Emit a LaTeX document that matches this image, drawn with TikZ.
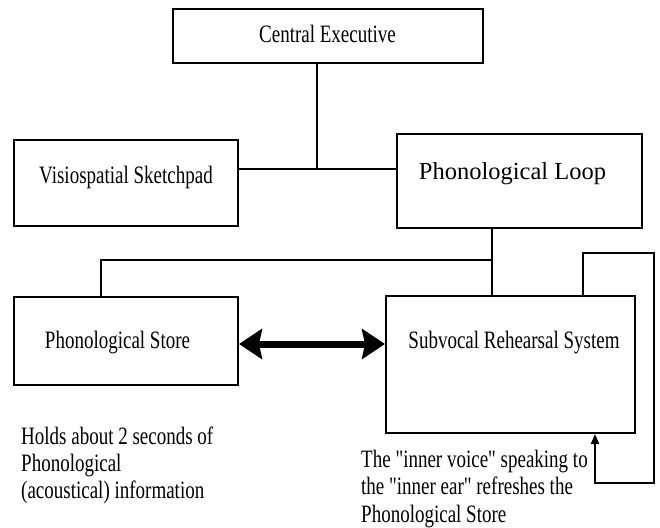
\documentclass[tikz,border=0pt]{standalone}
\usepackage{fontspec}
\newfontfamily\condfont{Liberation Serif}[FakeStretch=0.76]
\newfontfamily\plfont{Liberation Serif}
\usetikzlibrary{arrows.meta}
\newcommand{\boxtext}[2]{\raisebox{#1}[0pt][0pt]{#2}}
\begin{document}
\begin{tikzpicture}[x=1pt,y=-1pt,
  box/.style={draw, line width=2pt, inner sep=0pt, font=\condfont\fontsize{25}{27}\selectfont},
  conn/.style={line width=1.5pt},
  note/.style={anchor=base west, inner sep=0pt, font=\condfont\fontsize{25}{27}\selectfont}]
\useasboundingbox (0,0) rectangle (660,527);
\fill[white] (0,0) rectangle (660,527);
% boxes
\node[box, minimum width=310pt, minimum height=53pt] (ce) at (327.5,36) {\boxtext{-6.7pt}{Central Executive}};
\node[box, minimum width=224pt, minimum height=86pt] (vs) at (126,183) {\boxtext{0pt}{Visiospatial Sketchpad}};
\node[box, minimum width=245pt, minimum height=94pt, font=\plfont\fontsize{24.5}{28}\selectfont] (pl) at (519.5,181) {\boxtext{1.7pt}{Phonological Loop\kern14pt}};
\node[box, minimum width=224pt, minimum height=88pt] (ps) at (126,341) {\boxtext{-7.3pt}{Phonological Store\kern17pt}};
\node[box, minimum width=249pt, minimum height=137pt] (sub) at (510.5,364.5) {\boxtext{16.2pt}{\kern7pt Subvocal Rehearsal System}};
% junction coordinates
\coordinate (j) at (317,169);
\coordinate (k) at (492,260);
\coordinate (m) at (101,260);
\coordinate (a) at (0,344);
\coordinate (l1) at (583,253);
\coordinate (l2) at (654,253);
\coordinate (l3) at (654,483);
\coordinate (l4) at (595,483);
% connectors
\draw[conn] (ce.south -| j) -- (j);
\draw[conn] (vs.east |- j) -- (pl.west |- j);
\draw[conn] (pl.south -| k) -- (k) -- (sub.north -| k);
\draw[conn] (k) -- (m) -- (ps.north -| m);
\draw[line width=7pt, {Stealth[length=23pt,width=30pt,inset=3pt]}-{Stealth[length=23pt,width=30pt,inset=3pt]}] (ps.east |- a) -- (sub.west |- a);
\draw[line width=2pt, -{Triangle[length=10pt,width=8pt]}] (sub.north -| l1) -- (l1) -- (l2) -- (l3) -- (l4) -- (sub.south -| l4);
% notes
\node[note] (h1) at (21,444) {Holds about 2 seconds of};
\node[note] (h2) at (21,471) {Phonological};
\node[note] (h3) at (21,498) {(acoustical) information};
\node[note] (r1) at (361,467) {The "inner voice" speaking to};
\node[note] (r2) at (361,494.5) {the "inner ear" refreshes the};
\node[note] (r3) at (361,522) {Phonological Store};
\end{tikzpicture}
\end{document}
